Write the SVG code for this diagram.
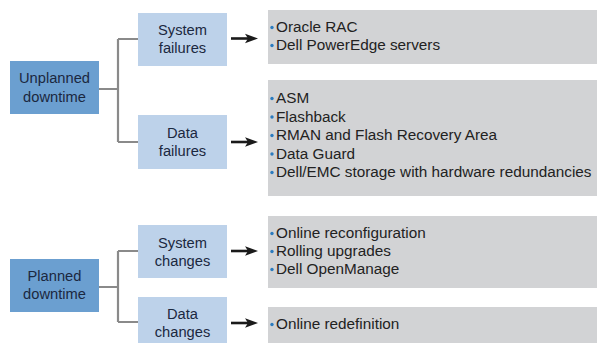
<svg xmlns="http://www.w3.org/2000/svg" width="597" height="343" viewBox="0 0 597 343">
<style>
.main{fill:#6b9fd0}
.sub{fill:#bdd2ea}
.res{fill:#d2d3d5}
.lbl{font-family:"Liberation Sans",Arial,sans-serif;font-size:14.7px;fill:#1b2840;text-anchor:middle}
.itm{font-family:"Liberation Sans",Arial,sans-serif;font-size:15.3px;fill:#222}
.dot{fill:#2b7bbf}
.conn{fill:none;stroke:#8a8a8a;stroke-width:2.2}
.arr{stroke:#1a1a1a;stroke-width:2.6}
</style>
<defs>
<path id="head" d="M0,0 L-13,-4.8 L-10,0 L-13,4.8 Z" fill="#1a1a1a"/>
<circle id="b" r="1.7" class="dot"/>
</defs>
<rect width="597" height="343" fill="#fff"/>
<g id="connectors">
<path class="conn" d="M99,89 H118 M118,39 V142 M118,39 H138 M118,142 H138"/>
<path class="conn" d="M99,287 H118 M118,251 V322 M118,251 H138 M118,322 H138"/>
<line class="arr" x1="231" y1="38.5" x2="250" y2="38.5"/><use href="#head" x="258" y="38.5"/>
<line class="arr" x1="231" y1="142" x2="250" y2="142"/><use href="#head" x="258" y="142"/>
<line class="arr" x1="231" y1="251" x2="250" y2="251"/><use href="#head" x="258" y="251"/>
<line class="arr" x1="231" y1="323" x2="250" y2="323"/><use href="#head" x="258" y="323"/>
</g>
<g id="unplanned">
<rect class="main" x="10" y="61" width="89" height="53"/>
<text class="lbl" x="54.5" y="83">Unplanned</text>
<text class="lbl" x="54.5" y="101.5">downtime</text>
</g>
<g id="system-failures">
<rect class="sub" x="138" y="13" width="89" height="53"/>
<text class="lbl" x="182.5" y="35">System</text>
<text class="lbl" x="182.5" y="53">failures</text>
</g>
<g id="data-failures">
<rect class="sub" x="138" y="115" width="89" height="54"/>
<text class="lbl" x="182.5" y="137.5">Data</text>
<text class="lbl" x="182.5" y="155.5">failures</text>
</g>
<g id="planned">
<rect class="main" x="10" y="259" width="89" height="53"/>
<text class="lbl" x="54.5" y="280.5">Planned</text>
<text class="lbl" x="54.5" y="299">downtime</text>
</g>
<g id="system-changes">
<rect class="sub" x="138" y="225" width="89" height="53"/>
<text class="lbl" x="182.5" y="247.5">System</text>
<text class="lbl" x="182.5" y="265.5">changes</text>
</g>
<g id="data-changes">
<rect class="sub" x="138" y="297" width="89" height="53"/>
<text class="lbl" x="182.5" y="319">Data</text>
<text class="lbl" x="182.5" y="337">changes</text>
</g>
<g id="res-system-failures">
<rect class="res" x="268" y="10" width="329" height="54"/>
<use href="#b" x="272" y="27.5"/><text class="itm" x="276" y="32">Oracle RAC</text>
<use href="#b" x="272" y="45.5"/><text class="itm" x="276" y="50">Dell PowerEdge servers</text>
</g>
<g id="res-data-failures">
<rect class="res" x="268" y="80" width="329" height="116"/>
<use href="#b" x="272" y="98.5"/><text class="itm" x="276" y="103">ASM</text>
<use href="#b" x="272" y="117"/><text class="itm" x="276" y="121.5">Flashback</text>
<use href="#b" x="272" y="135.5"/><text class="itm" x="276" y="140">RMAN and Flash Recovery Area</text>
<use href="#b" x="272" y="154"/><text class="itm" x="276" y="158.5">Data Guard</text>
<use href="#b" x="272" y="172.5"/><text class="itm" x="276" y="177">Dell/EMC storage with hardware redundancies</text>
</g>
<g id="res-system-changes">
<rect class="res" x="268" y="216" width="329" height="72"/>
<use href="#b" x="272" y="233.5"/><text class="itm" x="276" y="238">Online reconfiguration</text>
<use href="#b" x="272" y="251.5"/><text class="itm" x="276" y="256">Rolling upgrades</text>
<use href="#b" x="272" y="269.5"/><text class="itm" x="276" y="274">Dell OpenManage</text>
</g>
<g id="res-data-changes">
<rect class="res" x="268" y="307" width="329" height="40"/>
<use href="#b" x="272" y="324.5"/><text class="itm" x="276" y="329">Online redefinition</text>
</g>
</svg>
